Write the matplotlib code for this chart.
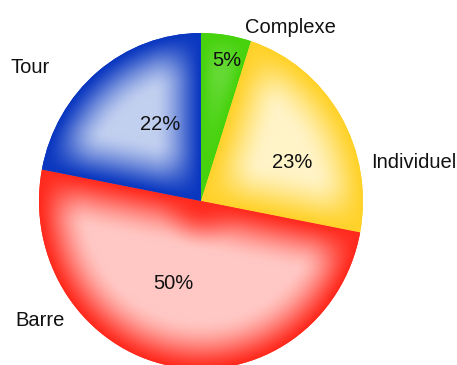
import numpy as np
import matplotlib
matplotlib.use("Agg")
import matplotlib.pyplot as plt

# data
categories = ["Complexe", "Individuel", "Barre", "Tour"]
values = [5, 23, 50, 22]

# colours: saturated edge, light centre
edge_colors = ["#46d20c", "#ffd22a", "#ff2a1e", "#0a37c0"]
light_colors = ["#d8f7cf", "#fff4c8", "#ffc8c4", "#c2d0f0"]

# label layout (angle in degrees, radius in pie units)
pct_pos = [(79, 0.85), (22, 0.61), (-109, 0.52), (119, 0.52)]
label_pos = [(62, 1.17), (10, 1.335), (-144.5, 1.22), (143, 1.32)]


def hex_rgb(c):
    return np.array(matplotlib.colors.to_rgb(c))


def edge_dist(px, py, t):
    ux, uy = np.cos(np.radians(t)), np.sin(np.radians(t))
    proj = px * ux + py * uy
    perp = np.abs(px * uy - py * ux)
    d = np.where(proj < 0, np.hypot(px, py), perp)
    d = np.where(proj > 1, np.hypot(px - ux, py - uy), d)
    return d


def ramp(d, w):
    s = np.clip(d / w, 0, 1)
    return s * s * (3 - 2 * s)


fig = plt.figure(figsize=(4.57, 3.65), dpi=100)
# pie is slightly taller than wide in the reference
ax = fig.add_axes([39 / 457, -4 / 365, 324 / 457, 336 / 365])
ax.axis("off")

wedges, _ = ax.pie(values, colors=edge_colors, startangle=90, counterclock=False,
                   radius=1, center=(0, 0), frame=False,
                   wedgeprops=dict(linewidth=0))

n = 600
xs = np.linspace(-1, 1, n)
X, Y = np.meshgrid(xs, xs[::-1])
R = np.hypot(X, Y)
W = 0.30
for w, ec, lc in zip(wedges, edge_colors, light_colors):
    s = ramp(1 - R, W) * ramp(edge_dist(X, Y, w.theta1), W) * ramp(edge_dist(X, Y, w.theta2), W)
    s = s ** 0.7
    img = hex_rgb(ec)[None, None, :] * (1 - s[..., None]) + hex_rgb(lc)[None, None, :] * s[..., None]
    im = ax.imshow(img, extent=[-1, 1, -1, 1], interpolation="bilinear", zorder=2)
    im.set_clip_path(w)
ax.set_xlim(-1, 1)
ax.set_ylim(-1, 1)
ax.set_aspect("auto")

total = sum(values)
for v, (a, r) in zip(values, pct_pos):
    ax.text(r * np.cos(np.radians(a)), r * np.sin(np.radians(a)), f"{round(100 * v / total)}%",
            ha="center", va="center", fontsize=14.5, family="Liberation Sans", color="#111111",
            zorder=5)
for c, (a, r) in zip(categories, label_pos):
    ax.text(r * np.cos(np.radians(a)), r * np.sin(np.radians(a)), c,
            ha="center", va="center", fontsize=14.5, family="Liberation Sans", color="#111111",
            zorder=5, clip_on=False)

fig.savefig("out.png", dpi=100)
